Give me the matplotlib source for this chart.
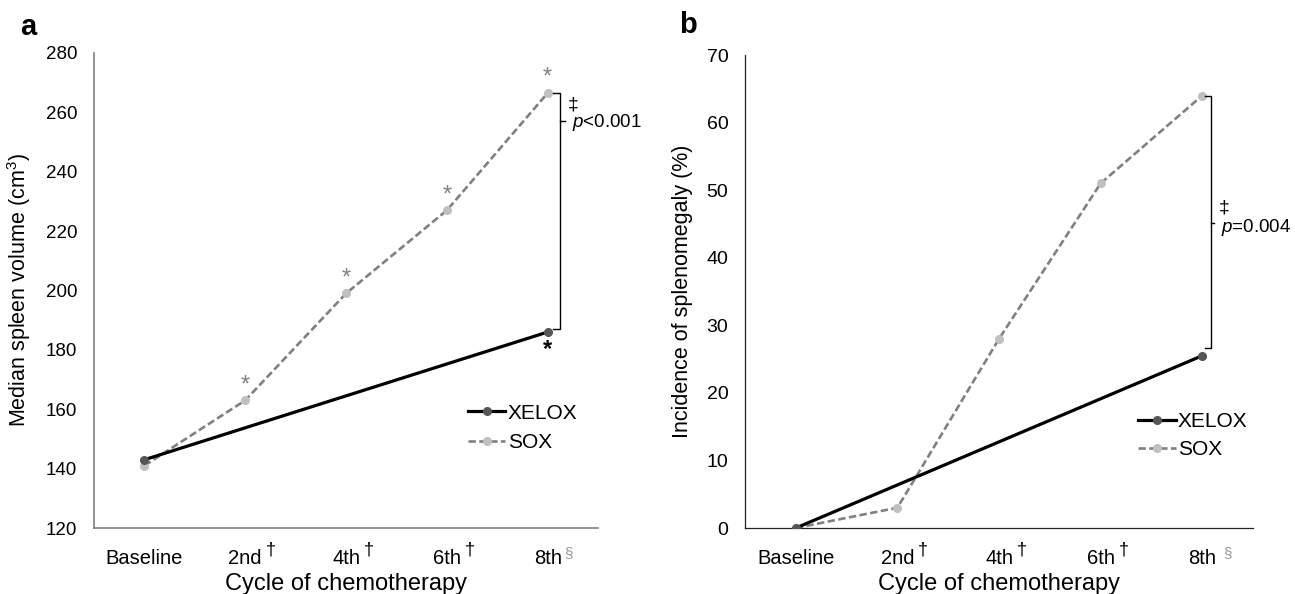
import matplotlib
matplotlib.use("Agg")
import matplotlib.pyplot as plt

plt.rcParams["font.family"] = ["Liberation Sans", "DejaVu Sans"]
plt.rcParams["mathtext.fontset"] = "custom"
plt.rcParams["mathtext.rm"] = "Liberation Sans"
plt.rcParams["mathtext.it"] = "Liberation Sans:italic"

cycles = ["Baseline", "2nd", "4th", "6th", "8th"]
cycle_marks = ["", "\u2020", "\u2020", "\u2020", "\u00a7"]

# panel a: median spleen volume (cm3)
xelox_idx = [0, 4]
xelox_vol = [143, 186]
sox_vol = [141, 163, 199, 227, 266.5]
sox_vol_star = [False, True, True, True, True]

# panel b: incidence of splenomegaly (%)
xelox_inc = [0, 25.5]
sox_inc = [0, 3, 28, 51, 64]

fig = plt.figure(figsize=(12.95, 5.94), dpi=100)
ax1 = fig.add_axes([0.0726, 0.1111, 0.3892, 0.7997])
ax2 = fig.add_axes([0.5753, 0.1111, 0.3923, 0.7963])

x = list(range(len(cycles)))


def draw(ax, xel, sox, spine_col, spine_lw, ytick_size):
    ax.plot(xelox_idx, xel, color="black", lw=2.3, marker="o", ms=5.5,
            mfc="#555555", mec="#555555", label="XELOX", zorder=3)
    ax.plot(x, sox, color="#808080", lw=1.9, ls=(0, (2.8, 1.3)), marker="o", ms=5.5,
            mfc="#c0c0c0", mec="#c0c0c0", label="SOX", zorder=2)
    ax.set_xlim(-0.5, 4.5)
    ax.set_xticks(x)
    ax.set_xticklabels(cycles, fontsize=14.5)
    ax.tick_params(axis="x", length=0, pad=15)
    ax.tick_params(axis="y", length=0, labelsize=ytick_size, pad=12)
    for s in ["top", "right"]:
        ax.spines[s].set_visible(False)
    for s in ["left", "bottom"]:
        ax.spines[s].set_color(spine_col)
        ax.spines[s].set_linewidth(spine_lw)
    ax.set_xlabel("Cycle of chemotherapy", fontsize=17, labelpad=4)


draw(ax1, xelox_vol, sox_vol, "#808080", 1.2, 13.5)
ax1.set_ylim(120, 280)
ax1.set_yticks(range(120, 281, 20))
ax1.set_ylabel("Median spleen volume (cm$^3$)", fontsize=15.5)
ax1.yaxis.set_label_coords(-0.122, 0.5)
for i, v in enumerate(sox_vol):
    if sox_vol_star[i]:
        ax1.annotate("*", xy=(i, v), xytext=(0, 3), textcoords="offset points",
                     ha="center", va="bottom", fontsize=17, color="#808080")
ax1.annotate("*", xy=(4, xelox_vol[1]), xytext=(0, -4), textcoords="offset points",
             ha="center", va="top", fontsize=17, color="black", fontweight="bold")
# bracket a
bx = 4.12
ax1.plot([4.05, bx, bx, 4.05], [sox_vol[4], sox_vol[4], 187, 187],
         color="black", lw=1, clip_on=False)
ax1.plot([bx, bx + 0.05], [257.1, 257.1], color="black", lw=1, clip_on=False)
ax1.text(4.2, 262.5, "\u2021", fontsize=14, va="center", ha="left")
ax1.text(4.24, 256.5, "$\\it{p}$<0.001", fontsize=13.5, va="center", ha="left")
ax1.legend(loc="upper left", bbox_to_anchor=(0.742, 0.262), frameon=False,
           fontsize=15, handlelength=1.8, handletextpad=0.1, labelspacing=0.5,
           borderpad=0, borderaxespad=0)
fig.text(0.0216, 0.954, "a", fontsize=21, fontweight="bold", va="center", ha="center")

draw(ax2, xelox_inc, sox_inc, "#222222", 0.9, 14)
ax2.set_ylim(0, 70)
ax2.set_yticks(range(0, 71, 10))
ax2.set_ylabel("Incidence of splenomegaly (%)", fontsize=15.5)
ax2.yaxis.set_label_coords(-0.102, 0.5)
# bracket b
bx = 4.09
ax2.plot([4.03, bx, bx, 4.03], [sox_inc[4], sox_inc[4], 26.6, 26.6],
         color="black", lw=1, clip_on=False)
ax2.plot([bx, bx + 0.03], [45.1, 45.1], color="black", lw=1, clip_on=False)
ax2.text(4.16, 47.4, "\u2021", fontsize=14, va="center", ha="left")
ax2.text(4.18, 44.4, "$\\it{p}$=0.004", fontsize=13.5, va="center", ha="left")
ax2.legend(loc="upper left", bbox_to_anchor=(0.774, 0.245), frameon=False,
           fontsize=15, handlelength=1.8, handletextpad=0.1, labelspacing=0.45,
           borderpad=0, borderaxespad=0)
fig.text(0.531, 0.958, "b", fontsize=21, fontweight="bold", va="center", ha="center")

# superscript marks after the cycle tick labels
fig.canvas.draw()
renderer = fig.canvas.get_renderer()
W, H = fig.bbox.width, fig.bbox.height
for ax, sect_gap in [(ax1, 3), (ax2, 7)]:
    for lab, m in zip(ax.get_xticklabels(), cycle_marks):
        if not m:
            continue
        bb = lab.get_window_extent(renderer)
        if m == "\u00a7":
            fig.text((bb.x1 + sect_gap) / W, (bb.y1 - 4) / H, m, fontsize=11,
                     color="#9a9a9a", ha="left", va="center")
        else:
            fig.text((bb.x1 + 4) / W, (bb.y1 - 1) / H, m, fontsize=13,
                     color="black", ha="left", va="center")

fig.savefig("out.png", dpi=100)
